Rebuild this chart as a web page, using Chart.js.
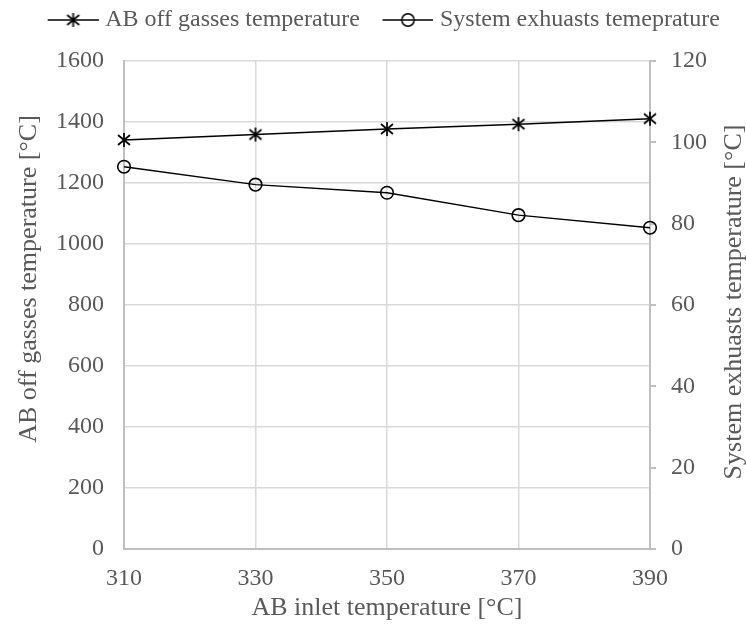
<!DOCTYPE html>
<html>
<head>
<meta charset="utf-8">
<script src="https://cdn.jsdelivr.net/npm/chart.js@4.4.1/dist/chart.umd.min.js"></script>
<style>
  html, body { margin: 0; padding: 0; background: #fff; overflow: hidden; }
  #wrap { width: 753px; height: 625px; }
</style>
</head>
<body>
<div id="wrap"><canvas id="chart"></canvas></div>
<script>
const inletTemps = ['310', '330', '350', '370', '390'];
const offGasTemps = [1341, 1359, 1377, 1393, 1411];
const exhaustTemps = [94.0, 89.6, 87.6, 82.1, 79.0];
const seriesNames = ['AB off gasses temperature', 'System exhuasts temeprature'];

const FONT = "'Liberation Serif', 'Times New Roman', serif";
const TEXT = '#595959';

// asterisk marker: X with a vertical bar
function starIcon() {
    const c = document.createElement('canvas');
    c.width = 16; c.height = 16;
    const g = c.getContext('2d');
    g.strokeStyle = '#000';
    g.lineWidth = 1.7;
    g.beginPath();
    g.moveTo(2, 3); g.lineTo(14, 13);
    g.moveTo(14, 3); g.lineTo(2, 13);
    g.moveTo(8, 1); g.lineTo(8, 15);
    g.stroke();
    return c;
}

// legend icon: line with marker in the middle, transparent room on the left
function legendIcon(kind) {
    const c = document.createElement('canvas');
    c.width = 71; c.height = 18;
    const g = c.getContext('2d');
    g.strokeStyle = '#000';
    g.lineWidth = 1.5;
    g.beginPath();
    g.moveTo(20, 9); g.lineTo(71, 9);
    g.stroke();
    if (kind === 'star') {
        g.drawImage(starIcon(), 45.5 - 8, 1);
    } else {
        g.beginPath();
        g.arc(45.5, 9, 6.2, 0, Math.PI * 2);
        g.stroke();
    }
    return c;
}

const legendIcons = [legendIcon('star'), legendIcon('circle')];

// leave some room between legend and plot
const legendGap = {
    id: 'legendGap',
    afterInit(chart) {
        const lg = chart.legend;
        const fit = lg.fit;
        lg.fit = function () {
            fit.call(this);
            this.height += 19;
        };
    }
};

// vertical axis titles, both reading bottom to top
function sideTitle(ctx, text, x, y, size) {
    ctx.save();
    ctx.translate(x, y);
    ctx.rotate(-Math.PI / 2);
    ctx.font = size + 'px ' + FONT;
    ctx.fillStyle = TEXT;
    ctx.textAlign = 'center';
    ctx.textBaseline = 'alphabetic';
    ctx.fillText(text, 0, 0);
    ctx.restore();
}

const axisTitles = {
    id: 'axisTitles',
    afterDraw(chart) {
        sideTitle(chart.ctx, 'AB off gasses temperature [°C]', 35.5, 279, 26);
        sideTitle(chart.ctx, 'System exhuasts temperature [°C]', 741, 302, 26);
    }
};

new Chart(document.getElementById('chart'), {
    type: 'line',
    data: {
        labels: inletTemps,
        datasets: [{
            label: seriesNames[0],
            data: offGasTemps,
            yAxisID: 'y',
            borderColor: '#000',
            borderWidth: 1.5,
            pointStyle: starIcon(),
            clip: false
        }, {
            label: seriesNames[1],
            data: exhaustTemps,
            yAxisID: 'y1',
            borderColor: '#000',
            borderWidth: 1.5,
            pointStyle: 'circle',
            pointRadius: 6.3,
            pointBorderWidth: 1.6,
            pointBackgroundColor: 'rgba(0,0,0,0)',
            pointBorderColor: '#000',
            clip: false
        }]
    },
    options: {
        responsive: true,
        maintainAspectRatio: false,
        animation: false,
        plugins: {
            legend: {
                position: 'top',
                labels: {
                    usePointStyle: true,
                    pointStyleWidth: 60,
                    color: TEXT,
                    font: { family: FONT, size: 24 },
                    padding: 8,
                    generateLabels(chart) {
                        const items = Chart.defaults.plugins.legend.labels.generateLabels(chart);
                        items.forEach((it, i) => { it.pointStyle = legendIcons[i]; });
                        return items;
                    }
                }
            },
            tooltip: { enabled: false }
        },
        scales: {
            x: {
                type: 'category',
                offset: false,
                grid: { color: '#d9d9d9', lineWidth: 1.5, drawTicks: false },
                border: { color: '#bfbfbf', width: 2 },
                ticks: {
                    color: TEXT, font: { family: FONT, size: 24 },
                    padding: 15, maxRotation: 0, autoSkip: false
                },
                title: {
                    display: true, text: 'AB inlet temperature [°C]',
                    color: TEXT, font: { family: FONT, size: 26 },
                    padding: { top: 0, bottom: 1 }
                },
                afterFit(scale) { scale.height = 76; }
            },
            y: {
                position: 'left',
                min: 0, max: 1600,
                grid: { color: '#d9d9d9', lineWidth: 1.5, drawTicks: false },
                border: { color: '#bfbfbf', width: 2 },
                ticks: {
                    stepSize: 200, color: TEXT, font: { family: FONT, size: 24 }, padding: 20,
                    callback: v => String(v)
                },
                afterFit(scale) { scale.width = 124; }
            },
            y1: {
                position: 'right',
                min: 0, max: 120,
                grid: { drawOnChartArea: false, color: '#bfbfbf', lineWidth: 2, tickLength: 6 },
                border: { color: '#bfbfbf', width: 2 },
                ticks: {
                    stepSize: 20, color: TEXT, font: { family: FONT, size: 24 }, padding: 15,
                    callback: v => String(v)
                },
                afterFit(scale) { scale.width = 103; }
            }
        }
    },
    plugins: [legendGap, axisTitles]
});
</script>
</body>
</html>
